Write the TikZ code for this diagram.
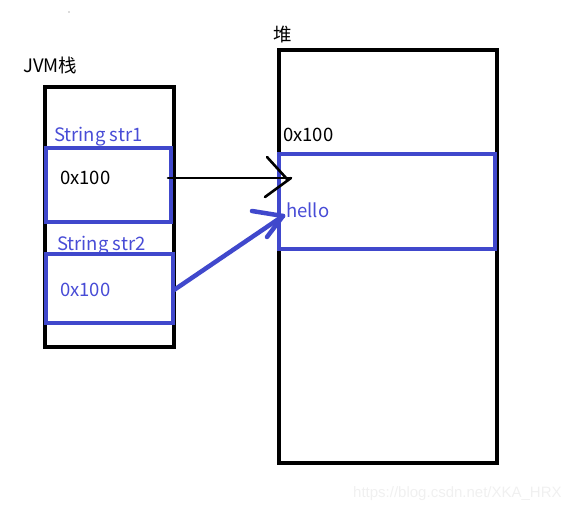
\documentclass[tikz,border=0pt]{standalone}
\usepackage{fontspec}
\setmainfont{Noto Sans CJK SC}
\newfontfamily\wmfont{Liberation Sans}
\definecolor{pblue}{RGB}{64,72,204}
\definecolor{tblue}{RGB}{72,76,214}
\definecolor{wm}{RGB}{240,240,240}
\begin{document}
\begin{tikzpicture}[x=1pt,y=-1pt,
  blk/.style={draw=black,line width=4pt,inner sep=0pt},
  bbox/.style={draw=pblue,line width=4pt,inner sep=0pt},
  lbl/.style={anchor=base west,inner sep=0pt,font=\fontsize{18.5}{20}\selectfont},
  lblb/.style={lbl,text=tblue},
  harrow/.style={line width=2.6pt,line cap=round},
  barrow/.style={line width=4.5pt,pblue,line cap=round}]
\useasboundingbox (0,0) rectangle (583,510);
% stack
\node[blk,minimum width=129pt,minimum height=260pt] (stack) at (109,217) {};
\node[lbl] (jvm) at (23,73) {JVM栈};
\node[lblb] (s1) at (54,142) {String str1};
\node[lblb] (s2) at (57,251) {String str2};
\node[bbox,minimum width=125pt,minimum height=73.5pt] (b1) at (108.5,185.25) {};
\node[bbox,minimum width=127pt,minimum height=69pt] (b2) at (109.5,288.5) {};
\node[lbl] (v1) at (60,185) {0x100};
\node[lblb] (v2) at (60,297) {0x100};
% heap
\node[lbl] (heaplbl) at (273,42) {堆};
\node[blk,minimum width=218pt,minimum height=412.5pt] (heap) at (388,256.75) {};
\node[lbl] (hv) at (283,142) {0x100};
\node[bbox,minimum width=216pt,minimum height=95pt] (hb) at (387,201.5) {};
\node[lblb] (hello) at (286,218) {hello};
% black arrow
\coordinate (a1s) at (168,178);
\coordinate (a1e) at (290,178);
\coordinate (a1h1) at (267,157);
\coordinate (a1h2) at (265,197);
\draw[harrow] (a1s) -- (a1e);
\draw[harrow] (a1h1) -- (287,179);
\draw[harrow] (291,178) -- (a1h2);
% blue arrow
\coordinate (a2s) at (174,290);
\coordinate (a2e) at (283,216);
\draw[barrow] (a2s) -- (a2e);
\draw[barrow] (252,211) -- (a2e);
\draw[barrow] (267,237) -- (a2e);
% dot
\fill[black!60] (69,12) circle (0.6pt);
% watermark
\node[anchor=base west,inner sep=0pt,text=wm,font=\wmfont\fontsize{15}{16}\selectfont] (wmk) at (353,497) {https://blog.csdn.net/XKA\_HRX};
\end{tikzpicture}
\end{document}
